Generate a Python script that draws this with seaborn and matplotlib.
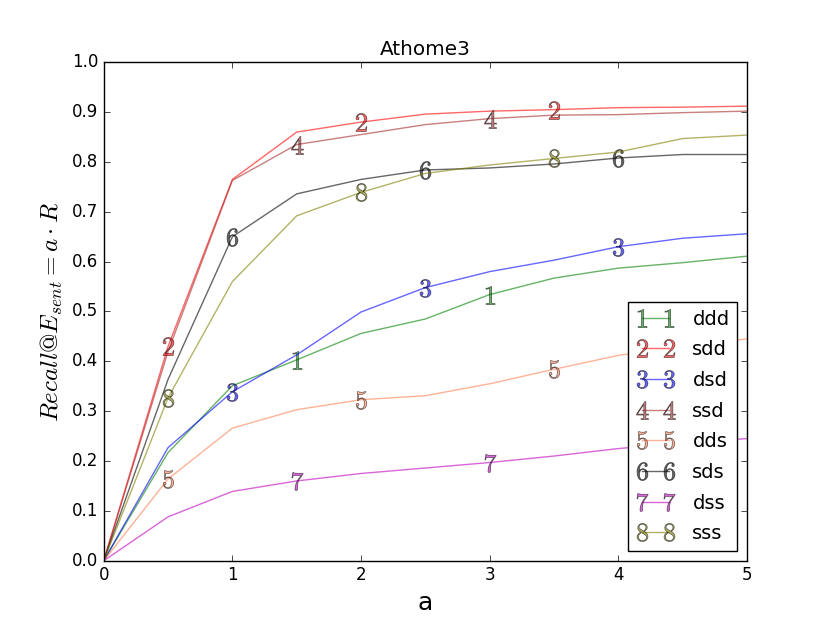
import numpy as np
import pandas as pd
import matplotlib
matplotlib.use("Agg")
import matplotlib.pyplot as plt
from matplotlib.ticker import MultipleLocator, FormatStrFormatter
import seaborn as sns

a = [0, 0.5, 1.0, 1.5, 2.0, 2.5, 3.0, 3.5, 4.0, 4.5, 5.0]

ddd = [0, 0.217, 0.351, 0.403, 0.456, 0.485, 0.534, 0.567, 0.587, 0.598, 0.611]
sdd = [0, 0.430, 0.765, 0.860, 0.880, 0.896, 0.902, 0.905, 0.909, 0.910, 0.912]
dsd = [0, 0.227, 0.339, 0.413, 0.499, 0.548, 0.580, 0.603, 0.630, 0.647, 0.656]
ssd = [0, 0.420, 0.763, 0.835, 0.855, 0.875, 0.887, 0.894, 0.895, 0.899, 0.902]
dds = [0, 0.164, 0.266, 0.303, 0.323, 0.331, 0.355, 0.384, 0.412, 0.430, 0.445]
sds = [0, 0.364, 0.650, 0.736, 0.765, 0.784, 0.788, 0.796, 0.808, 0.815, 0.815]
dss = [0, 0.088, 0.139, 0.160, 0.175, 0.186, 0.197, 0.210, 0.225, 0.236, 0.245]
sss = [0, 0.327, 0.560, 0.692, 0.739, 0.777, 0.794, 0.807, 0.820, 0.847, 0.854]

names = ['ddd', 'sdd', 'dsd', 'ssd', 'dds', 'sds', 'dss', 'sss']
series = [ddd, sdd, dsd, ssd, dds, sds, dss, sss]
colors = ['g', 'r', 'b', 'brown', 'coral', 'k', 'm', 'olive']

plt.style.use('classic')
plt.rcParams['figure.facecolor'] = 'white'
plt.rcParams['savefig.facecolor'] = 'white'

fig = plt.figure(figsize=(8.3, 6.23), dpi=100)
ax = fig.add_subplot(111)

for i, (name, vals) in enumerate(zip(names, series)):
    df = pd.DataFrame({'a': a, 'recall': vals})
    # markers every 3rd point, shifted per line
    start = (i + 2) % 3 + 1
    sns.lineplot(
        data=df, x='a', y='recall', ax=ax,
        color=colors[i], alpha=0.6, linewidth=1.0,
        marker='$%d$' % (i + 1), markersize=13,
        markeredgecolor='k', markeredgewidth=0.5,
        markevery=slice(start, 9, 3),
        label=name,
    )

ax.set_xlim(0, 5)
ax.set_ylim(0, 1.0)
ax.yaxis.set_major_locator(MultipleLocator(0.1))
ax.yaxis.set_major_formatter(FormatStrFormatter('%.1f'))
ax.set_title("Athome3")
ax.set_xlabel("a", fontsize=18)
ax.set_ylabel(r"$Recall@E_{sent}=a\cdot R$", fontsize=18)
ax.legend(loc='lower right', numpoints=2, fontsize=14, labelspacing=0.6,
          handletextpad=0.9)

plt.savefig('out.png', dpi=100)
plt.close()
